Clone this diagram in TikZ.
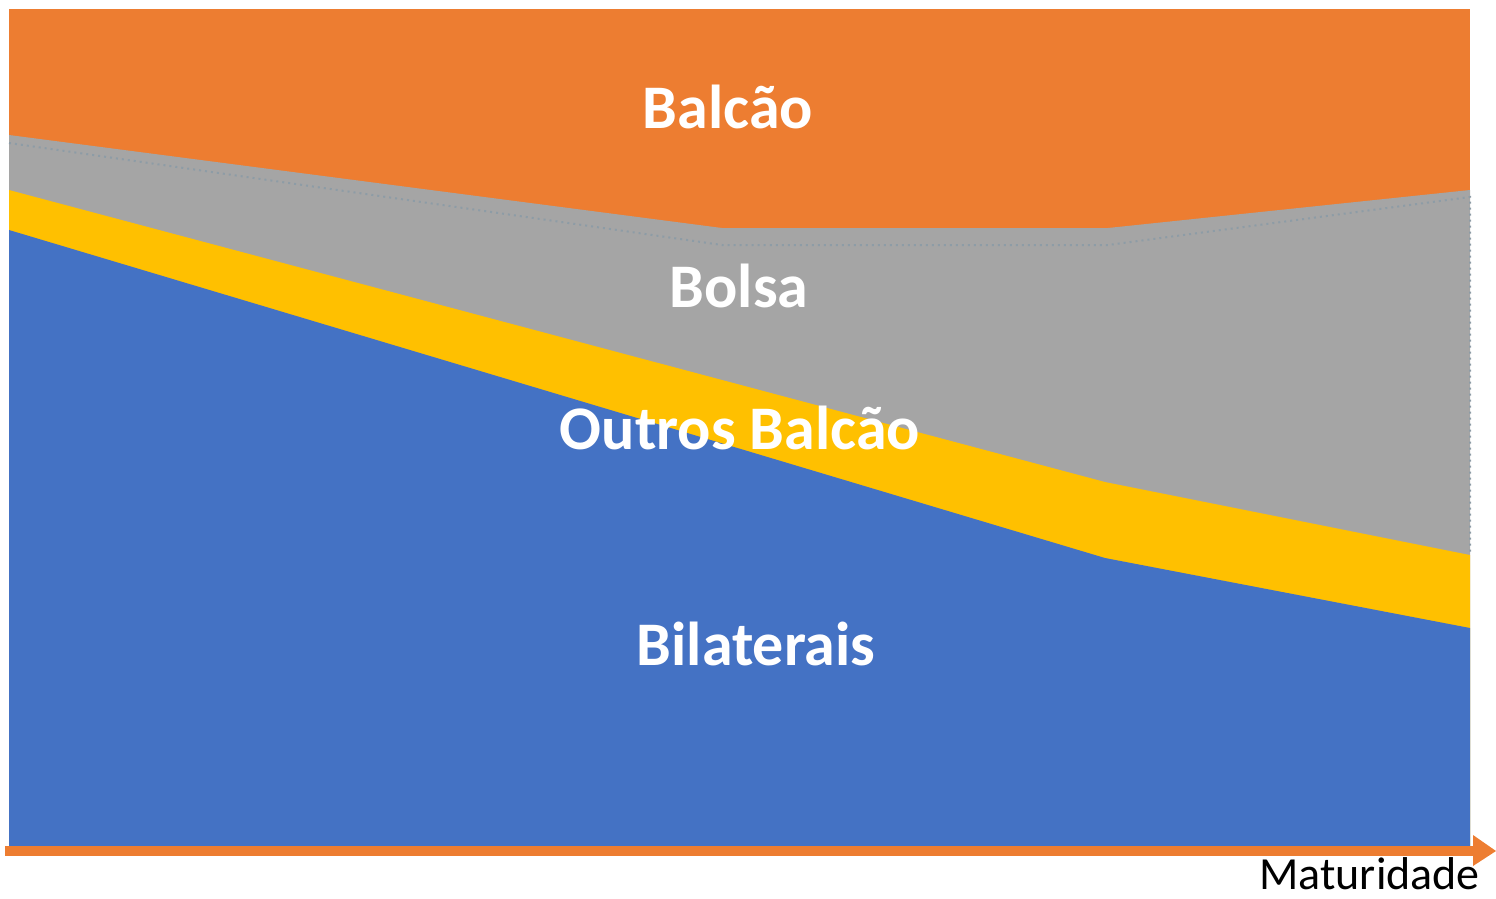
\documentclass[tikz,border=0pt]{standalone}
\usepackage{fontspec}
\setmainfont{Carlito}
\definecolor{cOrange}{HTML}{ED7D31}
\definecolor{cGray}{HTML}{A5A5A5}
\definecolor{cYellow}{HTML}{FFC000}
\definecolor{cBlue}{HTML}{4472C4}
\definecolor{cDot}{HTML}{8D9CA6}
\begin{document}
\begin{tikzpicture}[x=1pt,y=-1pt,
  arealabel/.style={text=white,font=\fontsize{62}{62}\selectfont\bfseries,inner sep=0pt,anchor=base},
  axislabel/.style={text=black,font=\fontsize{46}{46}\selectfont,inner sep=0pt,anchor=base east}]
\useasboundingbox (0,0) rectangle (1496,898);
% areas
\fill[cOrange] (9,9) rectangle (1470,846);
\fill[cGray] (9,135) -- (722,228) -- (1108,228) -- (1470,190) -- (1470,846) -- (9,846) -- cycle;
\draw[cDot,line width=2pt,dash pattern=on 2pt off 4pt] (9,143) -- (722,245) -- (1108,245) -- (1470,197) -- (1470,555);
\fill[cYellow] (9,190) -- (1105,482) -- (1470,555) -- (1470,846) -- (9,846) -- cycle;
\fill[cBlue] (9,230) -- (1105,558) -- (1470,628) -- (1470,846) -- (9,846) -- cycle;
% axis
\coordinate (axstart) at (5,851);
\coordinate (axend) at (1474,851);
\draw[cOrange,line width=10pt] (axstart) -- (axend);
\fill[cOrange] (1473,835) -- (1496,851) -- (1473,866) -- cycle;
% labels
\node[arealabel] (balcao) at (728,128) {Balcão};
\node[arealabel] (bolsa) at (739,307) {Bolsa};
\node[arealabel] (outros) at (740,449) {Outros Balcão};
\node[arealabel] (bilat) at (756,665) {Bilaterais};
\node[axislabel] (mat) at (1480,889) {Maturidade};
\end{tikzpicture}
\end{document}
